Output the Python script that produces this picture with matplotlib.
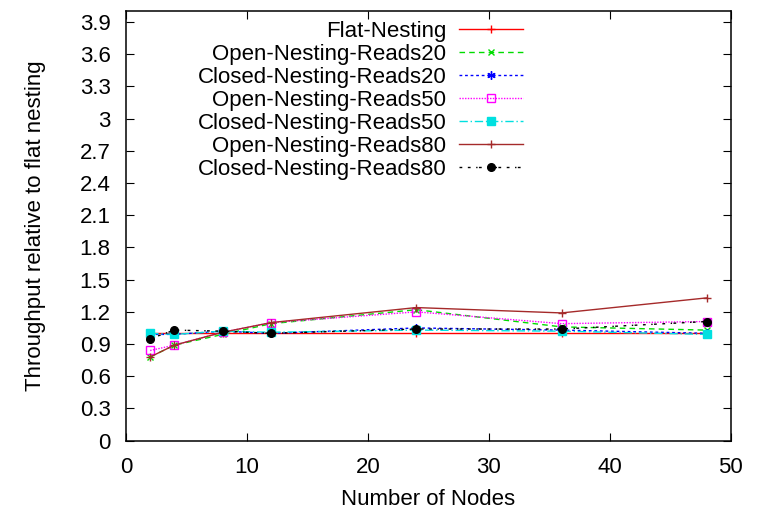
import matplotlib
matplotlib.use('Agg')
import matplotlib.pyplot as plt

plt.rcParams['font.family'] = ['Liberation Sans', 'DejaVu Sans']

# number of nodes
nodes = [2, 4, 8, 12, 24, 36, 48]

# throughput relative to flat nesting
flat = [1.0, 1.0, 1.0, 1.0, 1.0, 1.0, 1.0]
open20 = [0.78, 0.89, 0.99, 1.09, 1.22, 1.06, 1.03]
closed20 = [0.99, 0.99, 1.02, 1.0, 1.05, 1.03, 1.0]
open50 = [0.84, 0.89, 1.01, 1.10, 1.20, 1.09, 1.11]
closed50 = [1.0, 0.99, 1.02, 1.01, 1.03, 1.02, 0.99]
open80 = [0.78, 0.89, 1.01, 1.10, 1.24, 1.19, 1.33]
closed80 = [0.95, 1.03, 1.02, 1.0, 1.04, 1.04, 1.11]

labels = ['Flat-Nesting', 'Open-Nesting-Reads20', 'Closed-Nesting-Reads20',
          'Open-Nesting-Reads50', 'Closed-Nesting-Reads50',
          'Open-Nesting-Reads80', 'Closed-Nesting-Reads80']
series = [flat, open20, closed20, open50, closed50, open80, closed80]

styles = [
    dict(color='#ff0000', ls='-', marker='+', ms=6, mfc='none'),
    dict(color='#00dd00', ls=(0, (4, 3)), marker='x', ms=5, mfc='none'),
    dict(color='#0000ff', ls=(0, (2, 2)), marker=(6, 2, 0), ms=6, mfc='none'),
    dict(color='#ff00ff', ls=(0, (1, 1)), marker='s', ms=5.5, mfc='none'),
    dict(color='#00e0e0', ls=(0, (6, 2, 1, 2)), marker='s', ms=5.5, mfc='#00e0e0'),
    dict(color='#a52a2a', ls='-', marker='+', ms=6, mfc='none'),
    dict(color='#000000', ls=(0, (2, 4, 2, 4, 1, 1)), marker='o', ms=5.5, mfc='#000000'),
]

fs = 16

fig = plt.figure(figsize=(7.59, 5.13), dpi=100)
ax = fig.add_axes([0.166, 0.141, 0.797, 0.837])

for vals, lab, st in zip(series, labels, styles):
    ax.plot(nodes, vals, label=lab, lw=1, mew=1, **st)

ax.set_xlim(0, 50)
ax.set_ylim(0, 4.0)
ax.set_xticks([0, 10, 20, 30, 40, 50])
ax.set_yticks([i * 0.3 for i in range(14)])
ax.set_yticklabels(['0', '0.3', '0.6', '0.9', '1.2', '1.5', '1.8', '2.1',
                    '2.4', '2.7', '3', '3.3', '3.6', '3.9'])
ax.tick_params(direction='in', top=True, right=True, length=6, width=0.8, labelsize=fs)
ax.tick_params(axis='x', pad=12)
ax.tick_params(axis='y', pad=11)
for sp in ax.spines.values():
    sp.set_linewidth(1.1)

ax.set_xlabel('Number of Nodes', fontsize=fs, labelpad=8)
ax.set_ylabel('Throughput relative to flat nesting', fontsize=fs, labelpad=24)

leg = ax.legend(loc='upper right', bbox_to_anchor=(0.656, 0.978), frameon=False,
                markerfirst=False, fontsize=fs, handlelength=2.85, labelspacing=0.09,
                handletextpad=0.6, borderaxespad=0.0, borderpad=0.0)

# right-align the legend labels like gnuplot does
fig.canvas.draw()
r = fig.canvas.get_renderer()
exts = [t.get_window_extent(r) for t in leg.get_texts()]
right = max(e.x1 for e in exts)
for t, e in zip(leg.get_texts(), exts):
    t.set_x(t.get_position()[0] + right - e.x1)

plt.savefig('out.png', dpi=100)
